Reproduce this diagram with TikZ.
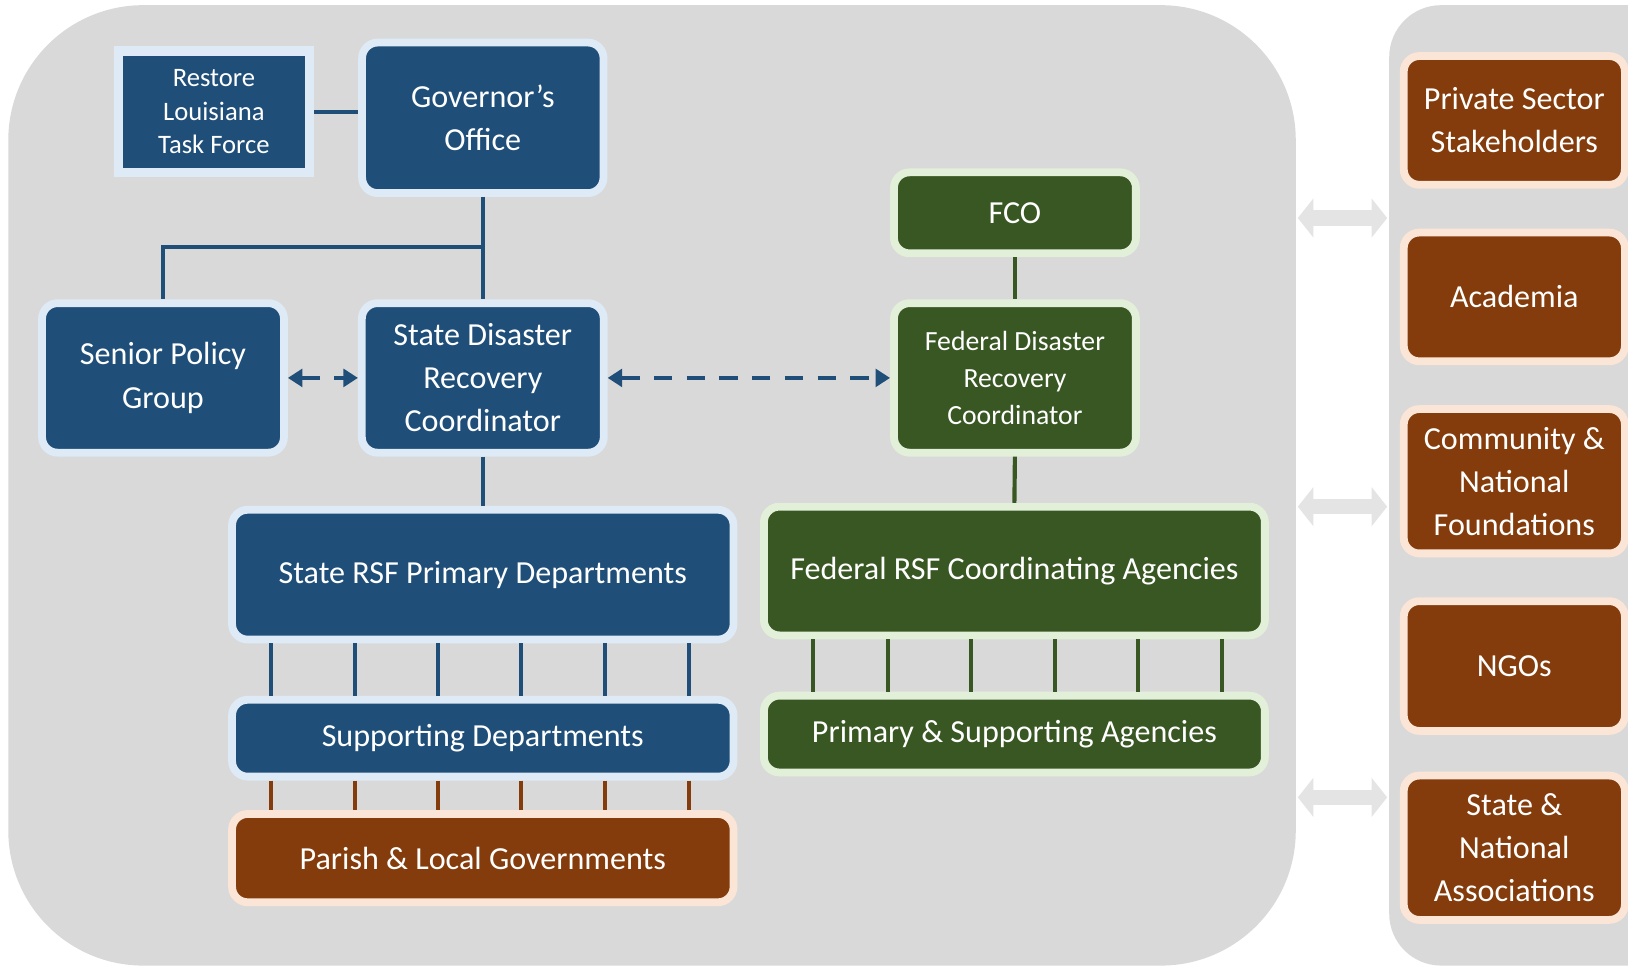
\documentclass[tikz,border=0pt]{standalone}
\usepackage{fontspec}
\setmainfont{Carlito}
\usetikzlibrary{arrows.meta}
\definecolor{stateblue}{HTML}{1F4E79}
\definecolor{stateedge}{HTML}{DEEAF6}
\definecolor{fedgreen}{HTML}{385723}
\definecolor{fededge}{HTML}{E2F0D9}
\definecolor{localbrown}{HTML}{843C0C}
\definecolor{localedge}{HTML}{FBE5D6}
\definecolor{panelgrey}{HTML}{D9D9D9}
\definecolor{arrowgrey}{HTML}{E4E4E4}
\begin{document}
\begin{tikzpicture}[
    box/.style={rectangle, rounded corners=0.15cm, line width=0.075cm,
      text=white, align=center, inner sep=0pt, font=\fontsize{8.8}{11.8}\selectfont},
    statebox/.style={box, draw=stateedge, fill=stateblue},
    fedbox/.style={box, draw=fededge, fill=fedgreen},
    localbox/.style={box, draw=localedge, fill=localbrown},
    panel/.style={rectangle, fill=panelgrey, inner sep=0pt, outer sep=0pt},
    stateline/.style={draw=stateblue, line width=0.04cm},
    fedline/.style={draw=fedgreen, line width=0.04cm},
    localline/.style={draw=localbrown, line width=0.04cm},
    dashlink/.style={draw=stateblue, line width=0.045cm, dash pattern=on 0.177cm off 0.138cm,
      {Triangle[length=0.14cm,width=0.17cm]}-{Triangle[length=0.14cm,width=0.17cm]}},
    widearrow/.style={draw=arrowgrey, line width=0.15cm, shorten <=0.02cm, shorten >=0.02cm,
      {Triangle[length=0.15cm,width=0.37cm]}-{Triangle[length=0.15cm,width=0.37cm]}}
  ]
  \useasboundingbox (0,0) rectangle (15.68,9.30);
  \fill [white] (0,0) rectangle (15.68,9.30);
  \clip (0,0) rectangle (15.68,9.30);

  % Drawing the two grey panels
  \node [panel, rounded corners=1.3cm, minimum width=12.40cm, minimum height=9.25cm] (statepanel) at (6.280,4.625) {};
  \node [panel, rounded corners=0.5cm, minimum width=2.82cm, minimum height=9.25cm] (partnerpanel) at (14.790,4.625) {};

  % Drawing the state boxes
  \node [statebox, sharp corners, line width=0.09cm, minimum width=1.84cm, minimum height=1.17cm,
    font=\fontsize{7.3}{9.1}\selectfont] (restore) at (2.060,8.225) {Restore\\Louisiana\\Task Force};
  \node [statebox, minimum width=2.325cm, minimum height=1.45cm] (gov) at (4.650,8.165) {Governor’s\\Office};
  \node [statebox, minimum width=2.33cm, minimum height=1.44cm] (spg) at (1.570,5.660) {Senior Policy\\Group};
  \node [statebox, minimum width=2.33cm, minimum height=1.44cm] (sdrc) at (4.650,5.660) {State Disaster\\Recovery\\Coordinator};
  \node [statebox, minimum width=4.83cm, minimum height=1.25cm] (srsf) at (4.650,3.765) {State RSF Primary Departments};
  \node [statebox, minimum width=4.83cm, minimum height=0.74cm] (supp) at (4.650,2.190) {Supporting Departments};
  \node [localbox, minimum width=4.83cm, minimum height=0.85cm] (parish) at (4.650,1.035) {Parish \& Local Governments};

  % Drawing the federal boxes
  \node [fedbox, minimum width=2.33cm, minimum height=0.78cm] (fco) at (9.775,7.250) {FCO};
  \node [fedbox, minimum width=2.33cm, minimum height=1.44cm,
    font=\fontsize{7.6}{10.2}\selectfont] (fdrc) at (9.775,5.660) {Federal Disaster\\Recovery\\Coordinator};
  \node [fedbox, minimum width=4.825cm, minimum height=1.24cm] (frsf) at (9.770,3.800) {Federal RSF Coordinating Agencies};
  \node [fedbox, minimum width=4.825cm, minimum height=0.74cm] (psa) at (9.770,2.230) {Primary \& Supporting Agencies};

  % Drawing the partner boxes
  \node [localbox, minimum width=2.13cm, minimum height=1.24cm] (private) at (14.585,8.140) {Private Sector\\Stakeholders};
  \node [localbox, minimum width=2.13cm, minimum height=1.24cm] (academia) at (14.585,6.440) {Academia};
  \node [localbox, minimum width=2.13cm, minimum height=1.39cm] (community) at (14.585,4.665) {Community \&\\National\\Foundations};
  \node [localbox, minimum width=2.13cm, minimum height=1.25cm] (ngos) at (14.585,2.885) {NGOs};
  \node [localbox, minimum width=2.13cm, minimum height=1.39cm] (assoc) at (14.585,1.135) {State \&\\National\\Associations};

  % Drawing links of the state chain
  \draw [stateline] (restore.east) -- (restore.east -| gov.west);
  \draw [stateline] (gov.south) -- (sdrc.north);
  \coordinate (split) at (4.650,6.920);
  \draw [stateline] (split) -| (spg.north);
  \draw [stateline] (sdrc.south) -- (srsf.north);
  \foreach \x in {2.61,3.42,4.22,5.02,5.83,6.64} {
    \coordinate (tick) at (\x,0);
    \draw [stateline] (srsf.south -| tick) -- (supp.north -| tick);
    \draw [localline] (supp.south -| tick) -- (parish.north -| tick);
  }

  % Drawing links of the federal chain
  \draw [fedline] (fco.south) -- (fdrc.north);
  \draw [fedline] (fdrc.south) -- (frsf.north);
  \foreach \x in {7.83,8.55,9.35,10.16,10.96,11.77} {
    \coordinate (tick) at (\x,0);
    \draw [fedline] (frsf.south -| tick) -- (psa.north -| tick);
  }

  % Drawing dashed coordination links
  \draw [dashlink] (spg.east) -- (sdrc.west);
  \draw [dashlink] (sdrc.east) -- (fdrc.west);

  % Drawing wide arrows between the panels
  \foreach \y [count=\i] in {7.20,4.42,1.62} {
    \coordinate (level\i) at (0,\y);
    \draw [widearrow] (statepanel.east |- level\i) -- (partnerpanel.west |- level\i);
  }
\end{tikzpicture}
\end{document}
